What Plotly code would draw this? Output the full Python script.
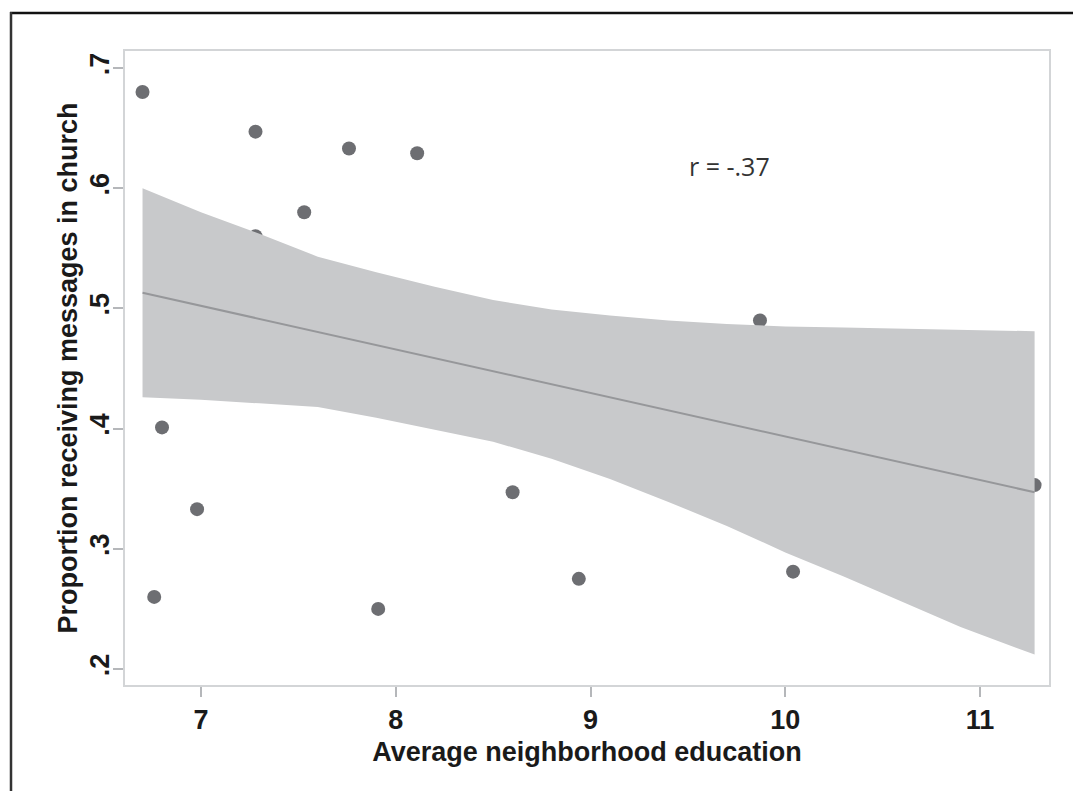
import plotly.graph_objects as go

# Neighborhood-level observations
education = [6.70, 7.28, 7.76, 8.11, 7.53, 7.28, 9.87, 6.80, 11.28, 8.60,
             6.98, 6.76, 8.94, 10.04, 7.91]
proportion = [0.680, 0.647, 0.633, 0.629, 0.580, 0.560, 0.490, 0.401, 0.353,
              0.347, 0.333, 0.260, 0.275, 0.281, 0.250]

# Fitted line and its confidence band
fit_x = [6.70, 11.28]
fit_y = [0.513, 0.347]
band_x = [6.70, 7.00, 7.30, 7.60, 7.90, 8.20, 8.50, 8.80, 9.10, 9.40,
          9.70, 10.00, 10.30, 10.60, 10.90, 11.28]
band_hi = [0.600, 0.580, 0.562, 0.543, 0.530, 0.518, 0.507, 0.499, 0.494,
           0.490, 0.487, 0.485, 0.484, 0.483, 0.482, 0.481]
band_lo = [0.426, 0.424, 0.421, 0.418, 0.409, 0.399, 0.389, 0.375, 0.358,
           0.339, 0.319, 0.297, 0.277, 0.256, 0.235, 0.212]

x_ticks = [7, 8, 9, 10, 11]
y_ticks = [0.2, 0.3, 0.4, 0.5, 0.6, 0.7]
y_ticktext = [".2", ".3", ".4", ".5", ".6", ".7"]

W, H = 1073, 791
L, R, T, B = 125, 24, 51, 106

fig = go.Figure()
fig.add_trace(go.Scatter(x=education, y=proportion, mode="markers",
                         marker=dict(size=14, color="#6d6e72"),
                         showlegend=False))
fig.add_trace(go.Scatter(x=band_x, y=band_lo, mode="lines",
                         line=dict(width=0), showlegend=False))
fig.add_trace(go.Scatter(x=band_x, y=band_hi, mode="lines", fill="tonexty",
                         fillcolor="#c8c9cb", line=dict(width=0),
                         showlegend=False))
fig.add_trace(go.Scatter(x=fit_x, y=fit_y, mode="lines",
                         line=dict(color="#96979a", width=2),
                         showlegend=False))

fig.add_annotation(x=9.716, y=0.6185, text="r = -.37", showarrow=False,
                   font=dict(family="Open Sans", size=25, color="#333333"))

# Outer frame: top and left rules
pw, ph = W - L - R, H - T - B
def px_x(p):
    return (p - L) / pw
def px_y(p):
    return (H - B - p) / ph
fig.add_shape(type="line", xref="paper", yref="paper",
              x0=px_x(10), x1=px_x(W + 5), y0=px_y(13), y1=px_y(13),
              line=dict(color="#111111", width=2.5))
fig.add_shape(type="line", xref="paper", yref="paper",
              x0=px_x(11), x1=px_x(11), y0=px_y(12), y1=px_y(H + 5),
              line=dict(color="#333333", width=2.5))

axis_font = dict(family="Liberation Sans, Arial", size=27, color="#1a1a1a",
                 weight="bold")
fig.update_xaxes(range=[6.61, 11.354], tickvals=x_ticks, ticks="outside",
                 ticklen=10, tickwidth=1.5, tickcolor="#b5b7ba",
                 showline=True, mirror=True, linecolor="#d3d5d7", linewidth=2,
                 showgrid=False, zeroline=False, tickfont=axis_font,
                 title=dict(text="Average neighborhood education",
                            font=axis_font, standoff=8))
fig.update_yaxes(range=[0.1867, 0.7141], tickvals=y_ticks, ticktext=y_ticktext,
                 tickangle=-90, ticks="outside", ticklen=10, tickwidth=1.5,
                 tickcolor="#b5b7ba", showline=True, mirror=True,
                 linecolor="#d3d5d7", linewidth=2, showgrid=False,
                 zeroline=False, tickfont=axis_font, ticklabelstandoff=-7,
                 title=dict(text="Proportion receiving messages in church",
                            font=axis_font, standoff=0))
fig.update_layout(width=W, height=H, margin=dict(l=L, r=R, t=T, b=B),
                  plot_bgcolor="white", paper_bgcolor="white")

fig.write_html("out.html")
